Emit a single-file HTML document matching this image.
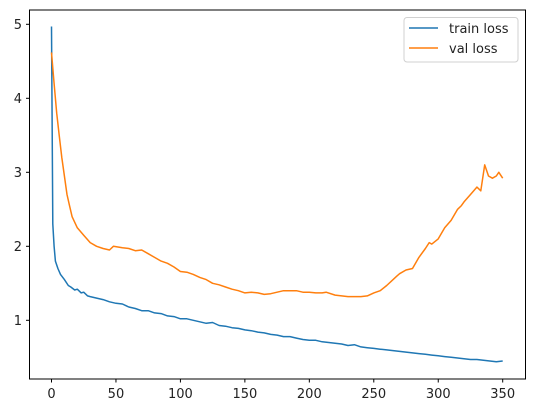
<!DOCTYPE html>
<html><head><meta charset="utf-8"><style>
body{margin:0;background:#fff}
svg{display:block;font-family:"DejaVu Sans","Liberation Sans",sans-serif}
</style></head><body>
<svg id="chart" width="534" height="413">
<rect x="29.5" y="10" width="496" height="369" fill="#fff" stroke="#000" stroke-width="1"/>
<g id="ticks"></g>
<g id="series"></g>
<g>
<rect x="404" y="17.5" width="114" height="44.5" rx="3" fill="#fff" stroke="#ccc" opacity="0.9"/>
<line x1="409" y1="28" x2="438" y2="28" stroke="#1f77b4" stroke-width="1.5"/>
<text x="449" y="33" font-size="13" fill="#222">train loss</text>
<line x1="409" y1="48" x2="438" y2="48" stroke="#ff7f0e" stroke-width="1.5"/>
<text x="449" y="53" font-size="13" fill="#222">val loss</text>
</g>
</svg>
<script>
const xTicks=[0,50,100,150,200,250,300,350];
const yTicks=[1,2,3,4,5];
const trainEpochs=[0,1,2,3,5,7,10,13,15,18,20,23,25,28,30,35,40,45,50,55,60,65,70,75,80,85,90,95,100,105,110,115,120,125,130,135,140,145,150,155,160,165,170,175,180,185,190,195,200,205,210,215,220,225,230,235,240,245,250,255,260,265,270,275,280,285,290,295,300,305,310,315,320,325,330,335,340,345,350];
const trainLoss=[4.97,2.3,2.0,1.8,1.7,1.62,1.55,1.47,1.45,1.41,1.42,1.37,1.38,1.33,1.32,1.3,1.28,1.25,1.23,1.22,1.18,1.16,1.13,1.13,1.1,1.09,1.06,1.05,1.02,1.02,1.0,0.98,0.96,0.97,0.93,0.92,0.9,0.89,0.87,0.86,0.84,0.83,0.81,0.8,0.78,0.78,0.76,0.74,0.73,0.73,0.71,0.7,0.69,0.68,0.66,0.67,0.64,0.63,0.62,0.61,0.6,0.59,0.58,0.57,0.56,0.55,0.54,0.53,0.52,0.51,0.5,0.49,0.48,0.47,0.47,0.46,0.45,0.44,0.45];
const valEpochs=[0,2,4,6,8,10,12,14,16,20,25,30,35,40,45,48,55,60,65,70,75,80,85,90,95,100,105,110,115,120,125,130,135,140,145,150,155,160,165,170,175,180,185,190,195,200,205,210,213,220,225,230,235,240,245,250,255,260,265,268,270,275,280,285,290,293,295,300,305,310,315,318,320,325,330,333,336,339,342,345,347,350];
const valLoss=[4.62,4.2,3.8,3.5,3.2,2.95,2.7,2.55,2.4,2.25,2.15,2.05,2.0,1.97,1.95,2.0,1.98,1.97,1.94,1.95,1.9,1.85,1.8,1.77,1.72,1.66,1.65,1.62,1.58,1.55,1.5,1.48,1.45,1.42,1.4,1.37,1.38,1.37,1.35,1.36,1.38,1.4,1.4,1.4,1.38,1.38,1.37,1.37,1.38,1.34,1.33,1.32,1.32,1.32,1.33,1.37,1.4,1.47,1.55,1.6,1.63,1.68,1.7,1.85,1.97,2.05,2.03,2.1,2.25,2.35,2.5,2.55,2.6,2.7,2.8,2.75,3.1,2.95,2.92,2.95,3.0,2.92];
const X=v=>51.5+v*(451.2/350);
const Y=v=>320.3-(v-1)*74;
const NS="http://www.w3.org/2000/svg";
const tg=document.getElementById('ticks');
xTicks.forEach(t=>{
  const l=document.createElementNS(NS,'line');
  l.setAttribute('x1',X(t));l.setAttribute('x2',X(t));l.setAttribute('y1',379);l.setAttribute('y2',382.5);l.setAttribute('stroke','#000');
  
  
  tg.appendChild(l);
  const s=document.createElementNS(NS,'text');
  s.setAttribute('x',X(t));s.setAttribute('y',398);s.setAttribute('font-size','13');s.setAttribute('text-anchor','middle');s.setAttribute('fill','#222');
  s.textContent=t;
  
  
  tg.appendChild(s);
});
yTicks.forEach(t=>{
  const l=document.createElementNS(NS,'line');
  l.setAttribute('x1',26);l.setAttribute('x2',29.5);l.setAttribute('y1',Y(t));l.setAttribute('y2',Y(t));l.setAttribute('stroke','#000');
  
  
  tg.appendChild(l);
  const s=document.createElementNS(NS,'text');
  s.setAttribute('x',22);s.setAttribute('y',Y(t)+4.5);s.setAttribute('font-size','13');s.setAttribute('text-anchor','end');s.setAttribute('fill','#222');
  s.textContent=t;
  
  
  tg.appendChild(s);
});
const sg=document.getElementById('series');
function line(xs,ys,color,name){
  const p=document.createElementNS(NS,'polyline');
  p.setAttribute('points',xs.map((x,i)=>X(x).toFixed(1)+','+Y(ys[i]).toFixed(1)).join(' '));
  p.setAttribute('fill','none');p.setAttribute('stroke',color);p.setAttribute('stroke-width','1.5');p.setAttribute('stroke-linejoin','round');
  
  
  sg.appendChild(p);
}
line(trainEpochs,trainLoss,'#1f77b4','train-loss-line');
line(valEpochs,valLoss,'#ff7f0e','val-loss-line');
</script>
</body></html>
